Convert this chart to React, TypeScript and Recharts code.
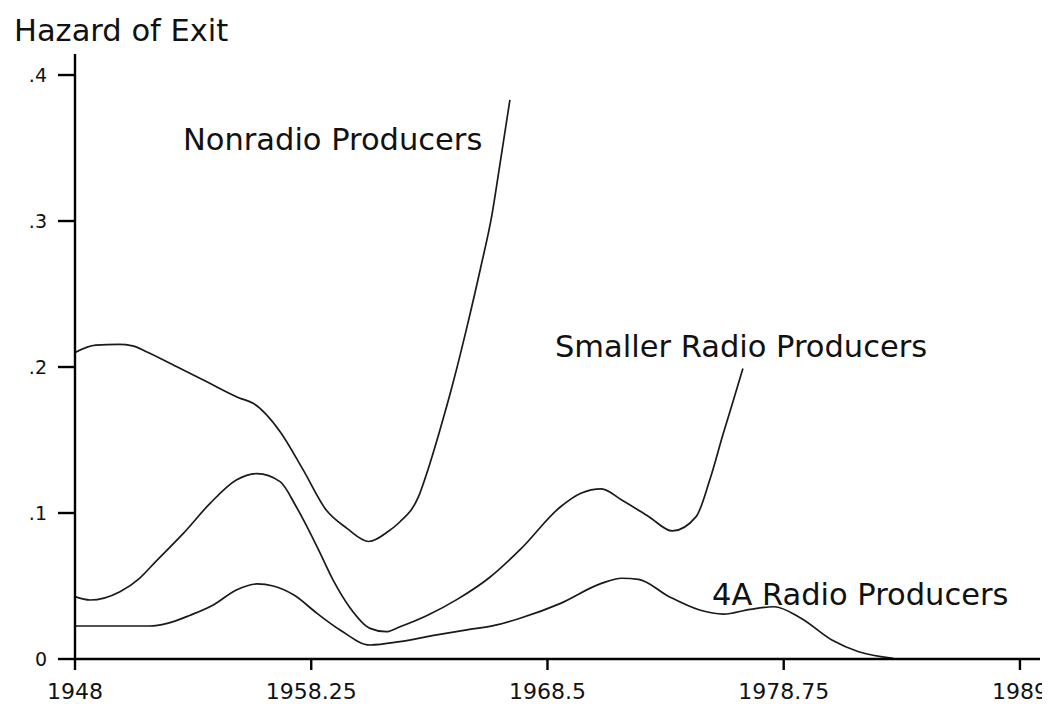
import React from "react";
import { LineChart, Line, XAxis, YAxis } from "recharts";

// ---- data ----
const xTicks = [1948, 1958.25, 1968.5, 1978.75, 1989];
const yTicks = [0, 0.1, 0.2, 0.3, 0.4];

const nonradioYears = [1948, 1948.9, 1949.9, 1950.5, 1951.1, 1952.4, 1953.7, 1955.1, 1955.75, 1956.9, 1957.9, 1958.9, 1959.8, 1960.75, 1961.6, 1962.1, 1962.9, 1963.3, 1963.8, 1964.4, 1965.0, 1965.6, 1966.1, 1966.4, 1966.87];
const nonradioValues = [0.21, 0.215, 0.2155, 0.2145, 0.2105, 0.2003, 0.19, 0.179, 0.175, 0.1557, 0.1295, 0.102, 0.0895, 0.0805, 0.0875, 0.094, 0.111, 0.129, 0.155, 0.189, 0.227, 0.268, 0.305, 0.335, 0.383];

const smallerYears = [1948, 1948.65, 1949.95, 1950.8, 1951.5, 1952.7, 1953.86, 1955.0, 1955.9, 1956.9, 1957.6, 1958.5, 1959.2, 1959.9, 1960.8, 1961.5, 1962.1, 1963.3, 1964.6, 1966.0, 1967.3, 1969.07, 1969.95, 1970.84, 1971.72, 1972.9, 1973.92, 1974.95, 1975.54, 1976.13, 1976.57, 1976.98];
const smallerValues = [0.0427, 0.0404, 0.0461, 0.0553, 0.0667, 0.086, 0.1066, 0.1226, 0.127, 0.1215, 0.1043, 0.077, 0.054, 0.0358, 0.021, 0.0187, 0.0221, 0.03, 0.041, 0.056, 0.0747, 0.1043, 0.1135, 0.1165, 0.1089, 0.0975, 0.0877, 0.0975, 0.1226, 0.1546, 0.1774, 0.199];

const fourAYears = [1948, 1951.25, 1952, 1953, 1954, 1955, 1955.9, 1956.6, 1957.5, 1958.5, 1959.5, 1960.8, 1962.1, 1963.5, 1965.0, 1966.2, 1967.31, 1969.07, 1970.84, 1971.72, 1972.45, 1973.78, 1975.1, 1976.13, 1977.3, 1978.33, 1979.5, 1980.84, 1982.0, 1983.5];
const fourAValues = [0.0226, 0.0226, 0.0244, 0.03, 0.037, 0.0473, 0.0514, 0.05, 0.0438, 0.0313, 0.0199, 0.0096, 0.0119, 0.016, 0.02, 0.023, 0.0279, 0.0381, 0.0518, 0.0553, 0.0546, 0.0427, 0.0336, 0.0308, 0.034, 0.0358, 0.0279, 0.013, 0.005, 0.0005];

const seriesLabels = ["Nonradio Producers", "Smaller Radio Producers", "4A Radio Producers"];
const yAxisTitle = "Hazard of Exit";

const build = (ys: number[], vs: number[]) => ys.map((year, i) => ({ year, v: vs[i] }));
const nonradio = build(nonradioYears, nonradioValues);
const smaller = build(smallerYears, smallerValues);
const fourA = build(fourAYears, fourAValues);

const FONT = "'DejaVu Sans', sans-serif";
const W = 1040;
const H = 696;

export default function App() {
  const lineProps = {
    type: "monotone" as const,
    dataKey: "v",
    stroke: "#1a1a1a",
    strokeWidth: 1.7,
    dot: false,
    isAnimationActive: false,
  };
  return (
    <div style={{ position: "relative", width: W, height: H, background: "#fff" }}>
      <LineChart
        width={W}
        height={H}
        margin={{ top: 46, right: 8, bottom: 15, left: 7 }}
      >
        <XAxis
          dataKey="year"
          type="number"
          domain={[1948, 1989.87]}
          ticks={xTicks}
          interval={0}
          allowDuplicatedCategory={false}
          height={30}
          tickSize={11}
          tickMargin={13}
          axisLine={{ stroke: "#000", strokeWidth: 2.4 }}
          tickLine={{ stroke: "#000", strokeWidth: 2.4 }}
          tick={{ fill: "#111", fontSize: 22, fontFamily: FONT }}
          tickFormatter={(v: number) => String(v)}
        />
        <YAxis
          type="number"
          domain={[0, 0.4144]}
          ticks={yTicks}
          interval={0}
          width={60}
          tickSize={17}
          tickMargin={11}
          axisLine={{ stroke: "#000", strokeWidth: 2.4 }}
          tickLine={{ stroke: "#000", strokeWidth: 2.4 }}
          tick={{ fill: "#111", fontSize: 19, fontFamily: FONT }}
          tickFormatter={(v: number) => (v === 0 ? "0" : "." + Math.round(v * 10))}
        />
        <Line {...lineProps} data={nonradio} name={seriesLabels[0]} />
        <Line {...lineProps} data={smaller} name={seriesLabels[1]} />
        <Line {...lineProps} data={fourA} name={seriesLabels[2]} />
      </LineChart>
      <svg
        width={W}
        height={H}
        style={{ position: "absolute", left: 0, top: 0, pointerEvents: "none" }}
      >
        <g fontFamily={FONT} fontSize={30.5} fill="#111">
          <text x={6} y={33}>{yAxisTitle}</text>
          <text x={175} y={142}>{seriesLabels[0]}</text>
          <text x={547} y={349}>{seriesLabels[1]}</text>
          <text x={704} y={597}>{seriesLabels[2]}</text>
        </g>
      </svg>
    </div>
  );
}
